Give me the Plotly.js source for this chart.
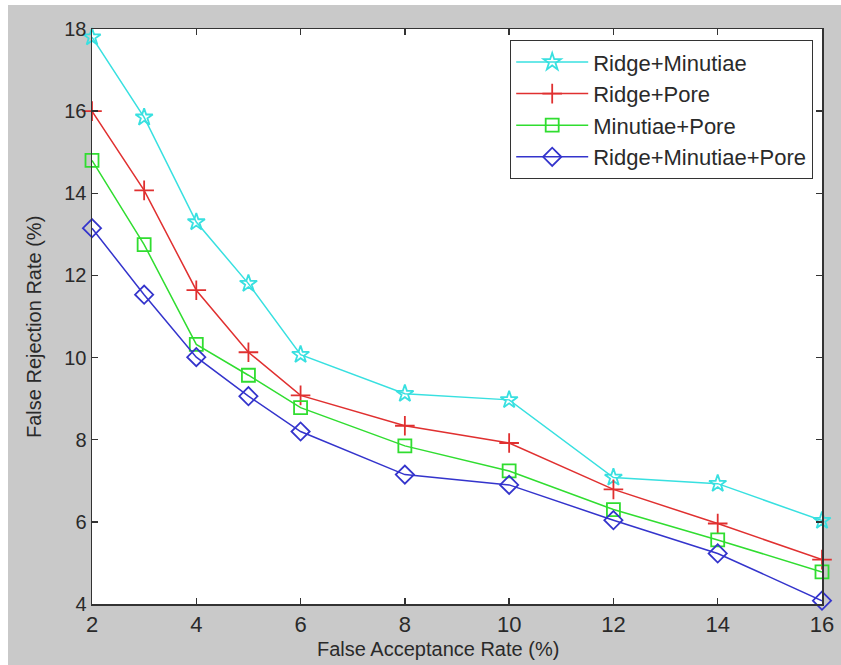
<!DOCTYPE html>
<html>
<head>
<meta charset="utf-8">
<script src="https://cdn.plot.ly/plotly-3.0.1.min.js"></script>
<style>html,body{margin:0;padding:0;background:#fff;}#chart{width:841px;height:665px;}</style>
</head>
<body>
<div id="chart"></div>
<script>
var far = [2, 3, 4, 5, 6, 8, 10, 12, 14, 16];
var ridgeMinutiae = [17.8, 15.85, 13.3, 11.8, 10.07, 9.12, 8.97, 7.08, 6.93, 6.03];
var ridgePore = [16.0, 14.07, 11.64, 10.13, 9.08, 8.34, 7.92, 6.79, 5.96, 5.08];
var minutiaePore = [14.8, 12.75, 10.32, 9.57, 8.78, 7.85, 7.24, 6.3, 5.56, 4.78];
var ridgeMinutiaePore = [13.15, 11.53, 10.01, 9.06, 8.2, 7.15, 6.9, 6.04, 5.23, 4.08];
var seriesNames = ["Ridge+Minutiae", "Ridge+Pore", "Minutiae+Pore", "Ridge+Minutiae+Pore"];
var xTicks = [2, 4, 6, 8, 10, 12, 14, 16];
var yTicks = [4, 6, 8, 10, 12, 14, 16, 18];
var xTitle = "False Acceptance Rate (%)";
var yTitle = "False Rejection Rate (%)";

var W = 841, H = 665, L = 92, R = 19, T = 29, B = 61;
var pw = W - L - R, ph = H - T - B;
function px(x){ return (x - L) / pw; }
function py(y){ return (H - B - y) / ph; }

var styles = [
  {color: "#38e0e0", symbol: "star-open", size: 13},
  {color: "#e03030", symbol: "cross-thin-open", size: 14},
  {color: "#30dd30", symbol: "square-open", size: 13},
  {color: "#3434cc", symbol: "diamond-open", size: 14}
];
var ys = [ridgeMinutiae, ridgePore, minutiaePore, ridgeMinutiaePore];
var traces = ys.map(function(y, i){
  return {
    x: far, y: y, name: seriesNames[i], type: "scatter", mode: "lines+markers",
    cliponaxis: false,
    legendgroup: "g" + i,
    line: {color: styles[i].color, width: 1.5},
    marker: {symbol: styles[i].symbol, size: styles[i].size, color: styles[i].color,
             line: {color: styles[i].color, width: 1.8}}
  };
});

var fam = "Liberation Sans, Arial, sans-serif";
var axisFont = {family: fam, size: 20, color: "#2a2a2a"};
var layout = {
  width: W, height: H,
  margin: {l: L, r: R, t: T, b: B, pad: 0},
  paper_bgcolor: "#c9c9c9",
  plot_bgcolor: "#ffffff",
  font: axisFont,
  showlegend: true,
  xaxis: {
    range: [2, 16], tickvals: xTicks, ticktext: xTicks.map(String),
    ticks: "inside", ticklen: 6, tickwidth: 1.5, tickcolor: "#333",
    showline: true, linecolor: "#333", linewidth: 1.5, mirror: "allticks",
    showgrid: false, zeroline: false,
    tickfont: {family: fam, size: 22, color: "#2a2a2a"}
  },
  yaxis: {
    range: [4, 18], tickvals: yTicks, ticktext: yTicks.map(String),
    ticks: "inside", ticklen: 6, tickwidth: 1.5, tickcolor: "#333",
    showline: true, linecolor: "#333", linewidth: 1.5, mirror: "allticks",
    showgrid: false, zeroline: false,
    tickfont: {family: fam, size: 20, color: "#2a2a2a"}
  },
  annotations: [
    {text: xTitle, xref: "paper", yref: "paper", x: px(438), y: py(649),
     xanchor: "center", yanchor: "middle", showarrow: false, font: axisFont},
    {text: yTitle, xref: "paper", yref: "paper", x: px(34), y: py(327), textangle: -90,
     xanchor: "center", yanchor: "middle", showarrow: false, font: axisFont}
  ],
  legend: {
    x: px(813), xanchor: "right", y: py(40), yanchor: "top",
    bgcolor: "#ffffff", bordercolor: "#333", borderwidth: 1.2,
    font: {family: fam, size: 22, color: "#2a2a2a"},
    itemwidth: 72, traceorder: "grouped", tracegroupgap: 0
  },
  shapes: [
    {type: "rect", xref: "paper", yref: "paper", x0: px(0), x1: px(8), y0: py(H), y1: py(0),
     fillcolor: "#ffffff", line: {width: 0}, layer: "below"},
    {type: "rect", xref: "paper", yref: "paper", x0: px(0), x1: px(W), y0: py(5), y1: py(0),
     fillcolor: "#ffffff", line: {width: 0}, layer: "below"}
  ]
};

Plotly.newPlot("chart", traces, layout, {displayModeBar: false, staticPlot: true});
</script>
</body>
</html>
